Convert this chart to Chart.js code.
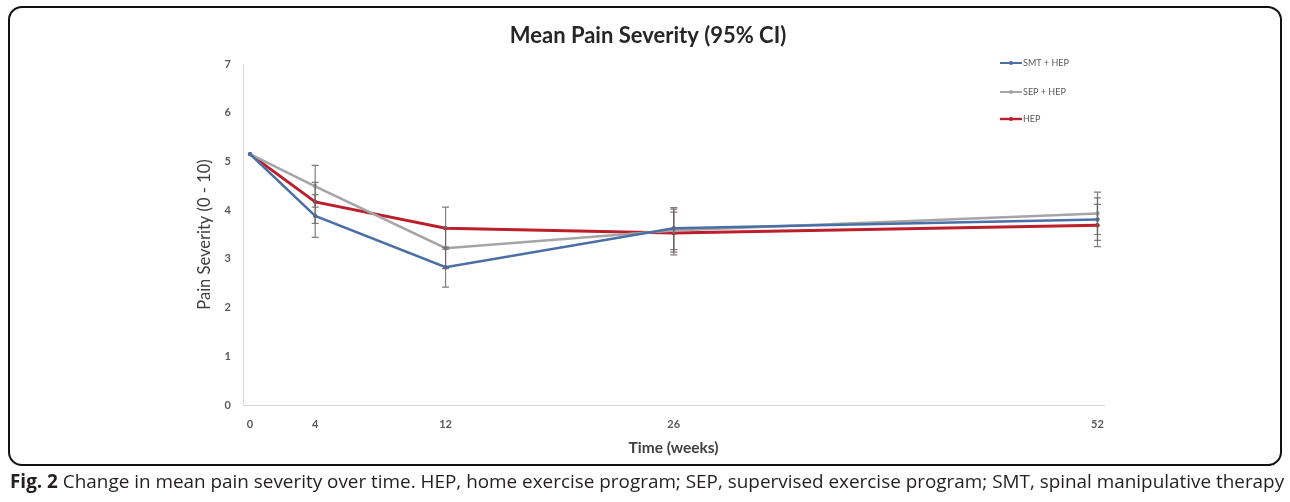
<!DOCTYPE html>
<html>
<head>
<meta charset="utf-8">
<title>Mean Pain Severity (95% CI)</title>
<script src="https://cdn.jsdelivr.net/npm/chart.js@4.4.1/dist/chart.umd.min.js"></script>
<style>
  html, body { margin: 0; padding: 0; background: #fff; }
  body { width: 1290px; height: 502px; position: relative; overflow: hidden; font-family: "Open Sans", sans-serif; }
  #frame { position: absolute; left: 8px; top: 6px; width: 1274px; height: 460px; border: 2px solid #111; border-radius: 14px; box-sizing: border-box; }
  #wrap { position: absolute; left: 0; top: 0; width: 1290px; height: 470px; }
  #caption { position: absolute; left: 10px; top: 468px; font-size: 18.9px; color: #231f20; white-space: nowrap; }
</style>
</head>
<body>
<div id="frame"></div>
<div id="wrap"><canvas id="chart" width="1290" height="470"></canvas></div>
<div id="caption"><b>Fig. 2</b> Change in mean pain severity over time. HEP, home exercise program; SEP, supervised exercise program; SMT, spinal manipulative therapy</div>

<script>
// Follow-up time points (weeks)
const weeks = [0, 4, 12, 26, 52];

// Series labels
const seriesLabels = ["SMT + HEP", "SEP + HEP", "HEP"];

// Mean pain severity (0-10) per group
const smtMeans = [5.15, 3.88, 2.83, 3.63, 3.81];
const sepMeans = [5.15, 4.49, 3.22, 3.58, 3.93];
const hepMeans = [5.15, 4.17, 3.63, 3.53, 3.69];

// 95% confidence limits per group
const smtLower = [null, 3.44, 2.42, 3.19, 3.38];
const smtUpper = [null, 4.32, 3.24, 4.05, 4.25];
const sepLower = [null, 4.06, 2.80, 3.14, 3.50];
const sepUpper = [null, 4.92, 3.64, 4.02, 4.37];
const hepLower = [null, 3.73, 3.20, 3.08, 3.25];
const hepUpper = [null, 4.57, 4.06, 3.96, 4.12];

// Axis tick values
const yTicks = [0, 1, 2, 3, 4, 5, 6, 7];
const xTicks = weeks;

const colors = ["#4a6ea6", "#a5a5a5", "#bb1f2b"];
const widths = [2.5, 2.5, 3];

function toPoints(means) {
  return weeks.map((w, i) => ({ x: w, y: means[i] }));
}

const meansList = [smtMeans, sepMeans, hepMeans];
const lowerList = [smtLower, sepLower, hepLower];
const upperList = [smtUpper, sepUpper, hepUpper];

const datasets = seriesLabels.map((label, k) => ({
  label: label,
  data: toPoints(meansList[k]),
  borderColor: colors[k],
  backgroundColor: colors[k],
  borderWidth: widths[k],
  pointRadius: 2.2,
  pointHoverRadius: 2.2,
  pointBorderWidth: 0,
  tension: 0,
  lowerCI: lowerList[k],
  upperCI: upperList[k]
}));

// Draws the confidence-interval whiskers with caps
const errorBars = {
  id: "errorBars",
  afterDatasetsDraw(chart) {
    const ctx = chart.ctx;
    const xs = chart.scales.x, ys = chart.scales.y;
    ctx.save();
    ctx.strokeStyle = "rgba(110,100,100,0.85)";
    ctx.lineWidth = 1.2;
    chart.data.datasets.forEach(ds => {
      ds.data.forEach((p, i) => {
        const lo = ds.lowerCI[i], hi = ds.upperCI[i];
        if (lo == null || hi == null) return;
        const x = xs.getPixelForValue(p.x);
        const y1 = ys.getPixelForValue(lo), y2 = ys.getPixelForValue(hi);
        ctx.beginPath();
        ctx.moveTo(x, y1); ctx.lineTo(x, y2);
        ctx.moveTo(x - 3.5, y1); ctx.lineTo(x + 3.5, y1);
        ctx.moveTo(x - 3.5, y2); ctx.lineTo(x + 3.5, y2);
        ctx.stroke();
      });
    });
    ctx.restore();
  }
};

// Legend drawn inside the plot area, top right, one entry per row
const insideLegend = {
  id: "insideLegend",
  afterDraw(chart) {
    const ctx = chart.ctx;
    const area = chart.chartArea;
    const x0 = area.right - 104, x1 = x0 + 22;
    const rows = [63, 92, 119];
    ctx.save();
    ctx.font = "9px Lato, sans-serif";
    ctx.textBaseline = "middle";
    chart.data.datasets.forEach((ds, k) => {
      const y = rows[k];
      ctx.strokeStyle = ds.borderColor;
      ctx.lineWidth = ds.borderWidth * 0.8;
      ctx.beginPath(); ctx.moveTo(x0, y); ctx.lineTo(x1, y); ctx.stroke();
      ctx.fillStyle = ds.borderColor;
      ctx.beginPath(); ctx.arc((x0 + x1) / 2, y, 2, 0, Math.PI * 2); ctx.fill();
      ctx.fillStyle = "#595959";
      ctx.fillText(ds.label, x1 + 1, y + 0.5);
    });
    ctx.restore();
  }
};

new Chart(document.getElementById("chart"), {
  type: "line",
  data: { datasets: datasets },
  plugins: [errorBars, insideLegend],
  options: {
    responsive: false,
    animation: false,
    devicePixelRatio: 1,
    layout: { padding: { left: 192, right: 186, top: 20, bottom: 10 } },
    plugins: {
      legend: { display: false },
      tooltip: { enabled: false },
      title: {
        display: true,
        text: "Mean Pain Severity (95% CI)",
        fullSize: true,
        color: "#262626",
        font: { family: "Lato, sans-serif", size: 22, weight: "bold" },
        padding: { top: 3, bottom: 14.6 }
      }
    },
    scales: {
      x: {
        type: "linear",
        min: -0.43,
        max: 52.4,
        afterBuildTicks(scale) { scale.ticks = xTicks.map(v => ({ value: v })); },
        afterFit(scale) { scale.height = 55; },
        grid: { display: false, drawTicks: false },
        border: { display: true, color: "#d9d9d9", width: 1 },
        ticks: {
          color: "#595959",
          padding: 13,
          maxRotation: 0,
          font: { family: "Lato, sans-serif", size: 11, weight: "bold" }
        },
        title: {
          display: true,
          text: "Time (weeks)",
          color: "#404040",
          font: { family: "Lato, sans-serif", size: 15.5, weight: "bold" },
          padding: { top: 0, bottom: 2.7 }
        }
      },
      y: {
        min: 0,
        max: 7,
        afterBuildTicks(scale) { scale.ticks = yTicks.map(v => ({ value: v })); },
        afterFit(scale) { scale.width = 51; },
        grid: { display: false, drawTicks: false },
        border: { display: true, color: "#d9d9d9", width: 1 },
        ticks: {
          color: "#595959",
          padding: 12,
          font: { family: "Lato, sans-serif", size: 11, weight: "bold" }
        },
        title: {
          display: true,
          text: "Pain Severity (0 - 10)",
          color: "#404040",
          font: { family: "Lato, sans-serif", size: 16.5 },
          padding: { top: 3, bottom: 0 }
        }
      }
    }
  }
});
</script>
</body>
</html>
